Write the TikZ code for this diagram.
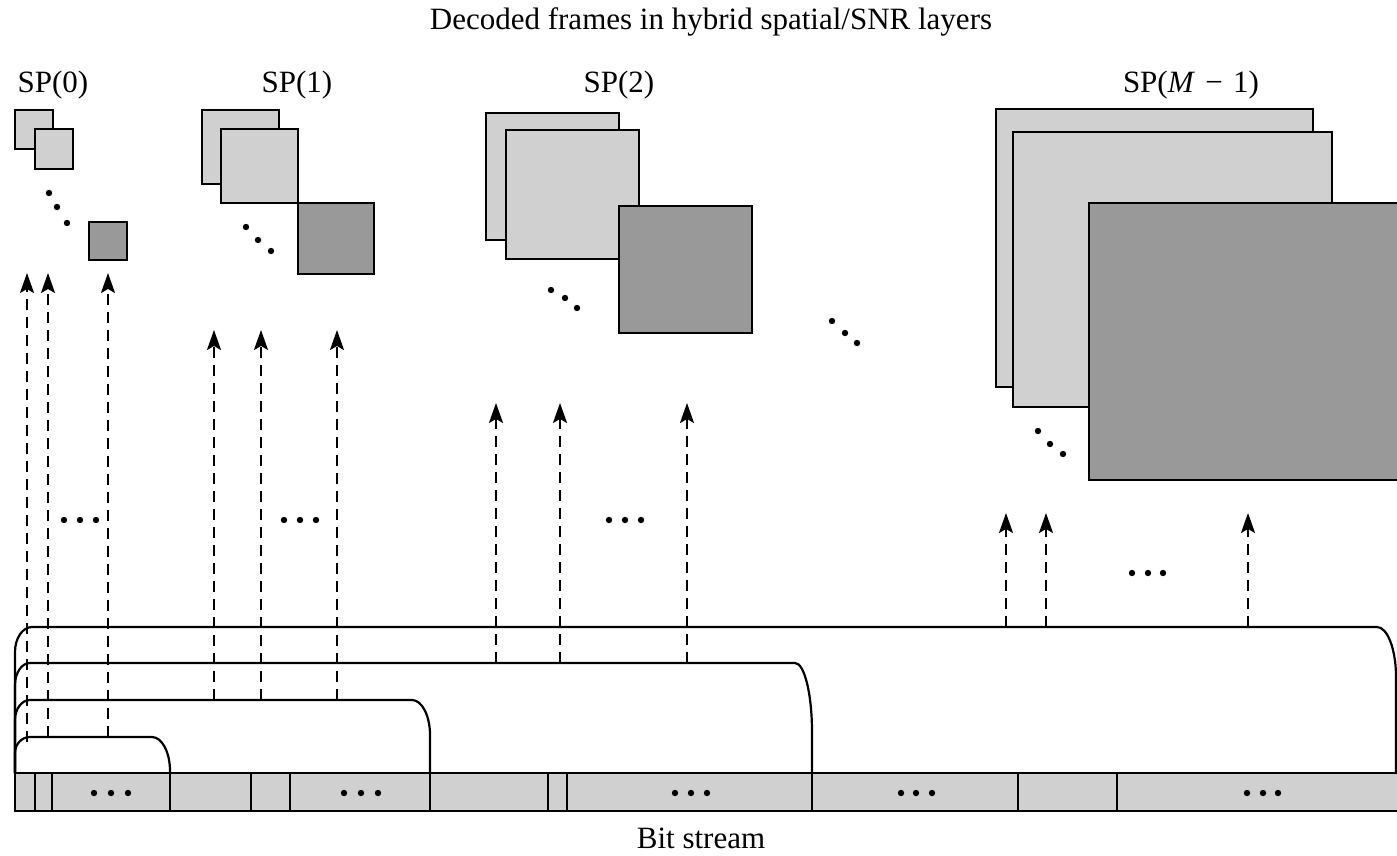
\documentclass[tikz,border=0pt]{standalone}
\usepackage{fontspec}
\setmainfont{Liberation Serif}
\usetikzlibrary{arrows.meta}
\definecolor{lightg}{HTML}{D0D0D0}
\definecolor{darkg}{HTML}{999999}
\begin{document}
\begin{tikzpicture}[x=0.5pt,y=-0.5pt,
  lbl/.style={font=\fontsize{15.5}{18}\selectfont, inner sep=0pt},
  lightframe/.style={draw=black, line width=1.2pt, fill=lightg},
  darkframe/.style={draw=black, line width=1.2pt, fill=darkg},
  darr/.style={line width=1.1pt, dash pattern=on 5.5pt off 3.5pt, -{Stealth[length=10pt,width=7pt,inset=2pt]}},
  bracket/.style={line width=1.1pt},
  bitbox/.style={draw=black, line width=1.2pt, fill=lightg},
  divider/.style={line width=1.2pt}]
\clip (0,0) rectangle (1397,856);
\fill[white] (0,0) rectangle (1397,856);

% labels
\node[lbl] (title) at (711,22) {Decoded frames in hybrid spatial/SNR layers};
\node[lbl] (sp0) at (53,85) {SP(0)};
\node[lbl] (sp1) at (297,85) {SP(1)};
\node[lbl] (sp2) at (619,85) {SP(2)};
\node[lbl] (spm) at (1191,85) {SP(\textit{M}\,\,−\,\,1)};
\node[lbl] (bits) at (701,838) {Bit stream};

% SP(0) frames
\draw[lightframe] (15,110) rectangle (53,149);
\draw[lightframe] (35,129) rectangle (73,169);
\draw[darkframe] (89,222) rectangle (127,260);
\foreach \p in {(49,193),(57,207),(67,223)} \fill \p circle[radius=3.2];

% SP(1) frames
\draw[lightframe] (202,110) rectangle (279,184);
\draw[lightframe] (221,129) rectangle (298,203);
\draw[darkframe] (298,203) rectangle (374,274);
\foreach \p in {(246,227),(258,240),(271,251)} \fill \p circle[radius=3.2];

% SP(2) frames
\draw[lightframe] (486,113) rectangle (619,240);
\draw[lightframe] (506,130) rectangle (639,259);
\draw[darkframe] (619,206) rectangle (752,333);
\foreach \p in {(551,290),(565,298),(577,308)} \fill \p circle[radius=3.2];

% middle dots
\foreach \p in {(832,321),(845,333),(857,343)} \fill \p circle[radius=3.2];

% SP(M-1) frames
\draw[lightframe] (996,109) rectangle (1313,387);
\draw[lightframe] (1013,132) rectangle (1332,407);
\draw[darkframe] (1089,203) rectangle (1420,480);
\foreach \p in {(1038,431),(1050,444),(1063,454)} \fill \p circle[radius=3.2];

% horizontal dots between arrows
\foreach \x in {64,80,96} \fill (\x,520) circle[radius=3.2];
\foreach \x in {284,300,316} \fill (\x,520) circle[radius=3.2];
\foreach \x in {609,625,641} \fill (\x,520) circle[radius=3.2];
\foreach \x in {1132,1148,1163} \fill (\x,573) circle[radius=3.2];

% bit stream
\draw[bitbox] (15,773) rectangle (1420,811);
\foreach \x in {35,52,170,251,290,430,548,567,812,1018,1117}
  \draw[divider] (\x,773) -- (\x,811);
\foreach \x in {94,111,128} \fill (\x,793) circle[radius=3.2];
\foreach \x in {344,361,378} \fill (\x,793) circle[radius=3.2];
\foreach \x in {675,691,707} \fill (\x,793) circle[radius=3.2];
\foreach \x in {901,916,932} \fill (\x,793) circle[radius=3.2];
\foreach \x in {1247,1263,1278} \fill (\x,793) circle[radius=3.2];

% brackets from bit stream
\draw[bracket] (15,773) -- (15,753) arc[start angle=180,end angle=270,x radius=15,y radius=16]
  -- (152,737) arc[start angle=270,end angle=360,x radius=18,y radius=34] -- (170,773);
\draw[bracket] (15,773) -- (15,720) arc[start angle=180,end angle=270,x radius=15,y radius=20]
  -- (412,700) arc[start angle=270,end angle=360,x radius=18,y radius=35] -- (430,773);
\draw[bracket] (15,773) -- (15,685) arc[start angle=180,end angle=270,x radius=15,y radius=22]
  -- (795,663) arc[start angle=270,end angle=360,x radius=17,y radius=69] -- (812,773);
\draw[bracket] (15,773) -- (15,652) arc[start angle=180,end angle=270,x radius=17,y radius=25]
  -- (1377,627) arc[start angle=270,end angle=360,x radius=19,y radius=50] -- (1396,773);

% arrow end coordinates
\coordinate (a0b) at (27,742);   \coordinate (a0t) at (27,273);
\coordinate (a1b) at (48,737);   \coordinate (a1t) at (48,273);
\coordinate (a2b) at (108,737);  \coordinate (a2t) at (108,273);
\coordinate (b0b) at (214,700);  \coordinate (b0t) at (214,330);
\coordinate (b1b) at (261,700);  \coordinate (b1t) at (261,330);
\coordinate (b2b) at (337,700);  \coordinate (b2t) at (337,330);
\coordinate (c0b) at (496,663);  \coordinate (c0t) at (496,403);
\coordinate (c1b) at (560,663);  \coordinate (c1t) at (560,403);
\coordinate (c2b) at (687,663);  \coordinate (c2t) at (687,403);
\coordinate (d0b) at (1006,627); \coordinate (d0t) at (1006,513);
\coordinate (d1b) at (1046,627); \coordinate (d1t) at (1046,513);
\coordinate (d2b) at (1248,627); \coordinate (d2t) at (1248,513);

\foreach \n in {a0,a1,a2,b0,b1,b2,c0,c1,c2,d0,d1,d2}
  \draw[darr] (\n b) -- (\n t);
\end{tikzpicture}
\end{document}
